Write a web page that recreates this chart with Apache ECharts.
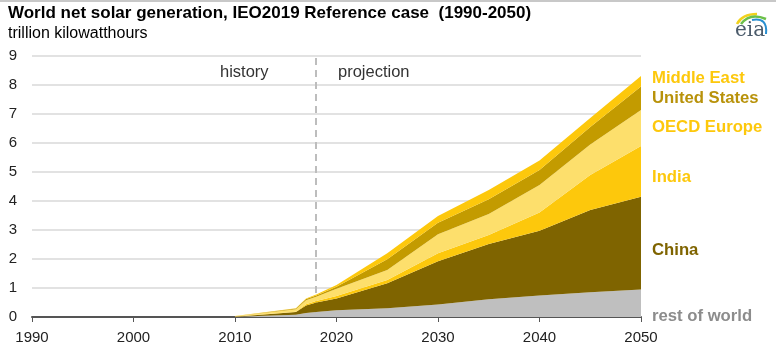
<!DOCTYPE html>
<html>
<head>
<meta charset="utf-8">
<script src="https://cdn.jsdelivr.net/npm/echarts@6/dist/echarts.min.js"></script>
<style>
html,body{margin:0;padding:0;background:#fff;}
#c{width:776px;height:358px;}
</style>
</head>
<body>
<div id="c"></div>
<script>
// Data (trillion kilowatthours)
var years  = [2010, 2016, 2017, 2018, 2020, 2025, 2030, 2035, 2040, 2045, 2050];
var restOfWorld = [0.01, 0.08, 0.14, 0.17, 0.23, 0.30, 0.43, 0.61, 0.74, 0.85, 0.95];
var china       = [0.002, 0.09, 0.26, 0.33, 0.41, 0.86, 1.49, 1.91, 2.23, 2.84, 3.20];
var india       = [0.002, 0.01, 0.04, 0.05, 0.08, 0.12, 0.28, 0.31, 0.63, 1.21, 1.75];
var oecdEurope  = [0.011, 0.09, 0.14, 0.15, 0.25, 0.34, 0.65, 0.72, 0.95, 1.05, 1.24];
var unitedStates= [0.005, 0.02, 0.04, 0.04, 0.07, 0.37, 0.40, 0.51, 0.52, 0.60, 0.81];
var middleEast  = [0.002, 0.01, 0.02, 0.04, 0.06, 0.21, 0.23, 0.32, 0.33, 0.31, 0.36];

var seriesNames = ['rest of world', 'China', 'India', 'OECD Europe', 'United States', 'Middle East'];
var seriesValues = [restOfWorld, china, india, oecdEurope, unitedStates, middleEast];
var seriesColors = ['#bfbfbf', '#7f6400', '#fdc80c', '#fddf6c', '#c39b00', '#fdc80c'];
var labelColors  = ['#8c8c8c', '#7f6400', '#fdc80c', '#fdc80c', '#b8920a', '#fdc80c'];
var labelY       = [316, 250, 177, 127, 98, 78];

var xTicks = [1990, 2000, 2010, 2020, 2030, 2040, 2050];
var yTicks = [0, 1, 2, 3, 4, 5, 6, 7, 8, 9];
var dividerYear = 2018;

var chart = echarts.init(document.getElementById('c'), null, {renderer: 'canvas'});

var FONT = '"Liberation Sans", Arial, sans-serif';

var series = seriesNames.map(function (name, i) {
  var s = {
    name: name,
    type: 'line',
    stack: 'total',
    symbol: 'none',
    lineStyle: {width: 0},
    areaStyle: {color: seriesColors[i], opacity: 1},
    itemStyle: {color: seriesColors[i]},
    // value first, year second, so the stack is applied to the value dimension
    encode: {x: 1, y: 0},
    data: years.map(function (y, k) { return [seriesValues[i][k], y]; }),
    z: 2
  };
  if (i === 0) {
    s.markLine = {
      silent: true,
      symbol: 'none',
      label: {show: false},
      lineStyle: {color: '#bdbdbd', type: [7, 5], width: 2},
      data: [{xAxis: dividerYear}],
      z: 1
    };
  }
  return s;
});

var graphics = [
  {type: 'rect', shape: {x: 0, y: 0, width: 776, height: 2}, style: {fill: '#c8c8c8'}},
  {type: 'text', left: 8, top: 5, style: {text: 'World net solar generation, IEO2019 Reference case  (1990-2050)', font: 'bold 17px ' + FONT, fill: '#000'}},
  {type: 'text', left: 8, top: 26, style: {text: 'trillion kilowatthours', font: '16px ' + FONT, fill: '#000'}},
  {type: 'text', left: 220, top: 64, style: {text: 'history', font: '16.5px ' + FONT, fill: '#333'}},
  {type: 'text', left: 338, top: 64, style: {text: 'projection', font: '16.5px ' + FONT, fill: '#333'}},
  // eia logo
  {type: 'bezierCurve', shape: {x1: 737, y1: 24, x2: 757, y2: 14, cpx1: 742, cpy1: 14}, style: {stroke: '#f2d21c', lineWidth: 2.5, fill: null}},
  {type: 'bezierCurve', shape: {x1: 741, y1: 24, x2: 766, y2: 19, cpx1: 750, cpy1: 12}, style: {stroke: '#6cc04a', lineWidth: 2.5, fill: null}},
  {type: 'bezierCurve', shape: {x1: 752, y1: 20, x2: 766, y2: 34, cpx1: 768, cpy1: 17}, style: {stroke: '#2a8fd0', lineWidth: 2, fill: null}},
  {type: 'text', left: 735, top: 21, style: {text: 'eia', font: '20px "DejaVu Serif", "Liberation Serif", serif', fill: '#4b5b6b'}}
];
seriesNames.forEach(function (name, i) {
  graphics.push({
    type: 'text', left: 652, top: labelY[i] - 8,
    style: {text: name, font: 'bold 16.7px ' + FONT, fill: labelColors[i]}
  });
});

chart.setOption({
  animation: false,
  backgroundColor: '#fff',
  grid: {left: 32, right: 135, top: 56, bottom: 41, containLabel: false},
  xAxis: {
    type: 'value', min: 1990, max: 2050, interval: 10,
    axisLine: {show: true, lineStyle: {color: '#555', width: 2}},
    axisTick: {show: true, length: 5, lineStyle: {color: '#555', width: 1}},
    axisLabel: {color: '#222', fontSize: 15, margin: 13, fontFamily: FONT,
      formatter: function (v) { return xTicks.indexOf(v) >= 0 ? String(v) : ''; }},
    splitLine: {show: false}
  },
  yAxis: {
    type: 'value', min: 0, max: 9, interval: 1,
    axisLine: {show: false}, axisTick: {show: false},
    axisLabel: {color: '#222', fontSize: 15, margin: 15, fontFamily: FONT,
      formatter: function (v) { return yTicks.indexOf(v) >= 0 ? String(v) : ''; }},
    splitLine: {show: true, lineStyle: {color: '#d9d9d9', width: 1.5}}
  },
  series: series,
  graphic: graphics
});
</script>
</body>
</html>
